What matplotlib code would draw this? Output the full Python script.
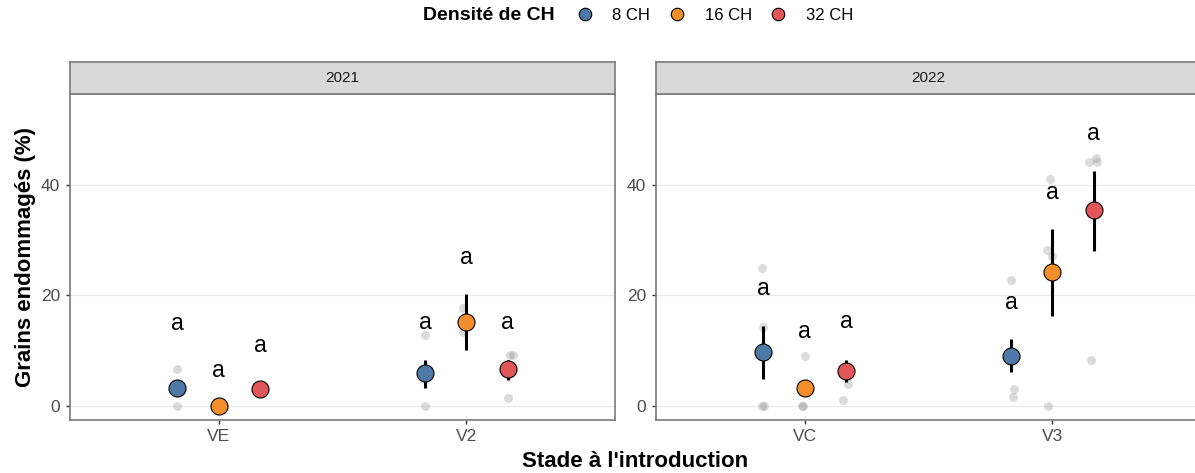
import matplotlib
matplotlib.use("Agg")
import matplotlib.pyplot as plt
from matplotlib.lines import Line2D
import numpy as np

plt.rcParams["font.family"] = ["Liberation Sans", "DejaVu Sans"]

# densities and colours
densities = ["8 CH", "16 CH", "32 CH"]
colors = ["#4E79A7", "#F28E2B", "#E15759"]

years = ["2021", "2022"]
stages_2021 = ["VE", "V2"]
stages_2022 = ["VC", "V3"]

# means per stage (rows) and density (columns)
mean_2021 = [[3.3, 0.0, 3.0], [5.9, 15.2, 6.6]]
mean_2022 = [[9.7, 3.2, 6.4], [9.1, 24.2, 35.4]]

# standard error bars (low / high), nan = no bar
lo_2021 = [[np.nan, np.nan, np.nan], [3.3, 10.1, 4.7]]
hi_2021 = [[np.nan, np.nan, np.nan], [8.4, 20.3, 8.4]]
lo_2022 = [[4.9, np.nan, 4.3], [6.1, 16.3, 28.0]]
hi_2022 = [[14.5, np.nan, 8.4], [12.1, 32.0, 42.6]]

# letters from the mean comparison and their heights
letters_2021 = [["a", "a", "a"], ["a", "a", "a"]]
letters_2022 = [["a", "a", "a"], ["a", "a", "a"]]
lab_y_2021 = [[14.9, 6.5, 10.9], [15.1, 26.9, 15.1]]
lab_y_2022 = [[21.3, 13.5, 15.2], [18.8, 38.6, 49.3]]

# raw observations: stage index, density index, jitter, value
raw_2021_stage = [0, 0, 0, 0, 1, 1, 1, 1, 1, 1, 1]
raw_2021_dens = [0, 0, 1, 1, 0, 0, 1, 1, 2, 2, 2]
raw_2021_jit = [0.0, 0.0, -0.01, 0.01, 0.0, 0.0, -0.015, -0.015, 0.01, 0.02, 0.0]
raw_2021_val = [6.6, 0.0, 0.0, 0.0, 12.9, 0.0, 17.8, 13.3, 9.3, 9.3, 1.4]

raw_2022_stage = [0, 0, 0, 0, 0, 0, 0, 0, 0, 1, 1, 1, 1, 1, 1, 1, 1, 1, 1, 1]
raw_2022_dens = [0, 0, 0, 0, 1, 1, 1, 2, 2, 0, 0, 0, 1, 1, 1, 1, 2, 2, 2, 2]
raw_2022_jit = [-0.005, 0.0, -0.005, 0.004, 0.0, -0.01, -0.005, 0.01, -0.013,
                0.0, 0.01, 0.007, -0.01, -0.02, 0.0, -0.017,
                0.009, -0.02, 0.015, -0.012]
raw_2022_val = [24.9, 14.2, 0.0, 0.0, 9.0, 0.0, 0.0, 4.0, 1.1,
                22.8, 3.0, 1.7, 41.0, 28.3, 27.1, 0.0,
                44.8, 44.2, 44.2, 8.3]

W, H = 1195, 473
fig = plt.figure(figsize=(W / 100, H / 100), dpi=100)

dodge = [-1 / 6, 0, 1 / 6]
border = "#7a7a7a"


def panel(x0, year, stages, means, lo, hi, letters, lab_y, r_st, r_de, r_ji, r_va):
    ax = fig.add_axes([x0 / W, (H - 419.5) / H, 545 / W, (419.5 - 94.3) / H])
    for y in [0, 20, 40]:
        ax.axhline(y, color="#ebebeb", lw=1.0, zorder=0)

    xr = [i + 1 + dodge[d] + j for i, d, j in zip(r_st, r_de, r_ji)]
    ax.scatter(xr, r_va, s=42, color="grey", alpha=0.28, lw=0, zorder=1)

    for i in range(len(stages)):
        for d in range(3):
            x = i + 1 + dodge[d]
            if not np.isnan(lo[i][d]):
                ax.vlines(x, lo[i][d], hi[i][d], color="black", lw=2.2, zorder=2)
            ax.scatter(x, means[i][d], s=150, color=colors[d],
                       edgecolor="black", lw=0.8, zorder=3)
            ax.text(x, lab_y[i][d], letters[i][d], ha="center", va="center",
                    fontsize=16.5, color="black")

    ax.set_xlim(0.4, 2.6)
    ax.set_ylim(-2.45, 56.4)
    ax.set_xticks([1, 2])
    ax.set_xticklabels(stages)
    ax.set_yticks([0, 20, 40])
    ax.tick_params(length=3, width=1, color="#333333", labelcolor="#4d4d4d",
                   labelsize=12.5, pad=4)
    for s in ax.spines.values():
        s.set_color(border)
        s.set_linewidth(1.2)

    # facet strip
    st = fig.add_axes([x0 / W, (H - 94.3) / H, 545 / W, 32.6 / H])
    st.set_facecolor("#d9d9d9")
    st.set_xticks([])
    st.set_yticks([])
    for s in st.spines.values():
        s.set_color(border)
        s.set_linewidth(1.2)
    st.text(0.5, 0.5, year, ha="center", va="center", fontsize=11,
            color="#1a1a1a", transform=st.transAxes)
    return ax


panel(70, years[0], stages_2021, mean_2021, lo_2021, hi_2021, letters_2021,
      lab_y_2021, raw_2021_stage, raw_2021_dens, raw_2021_jit, raw_2021_val)
panel(656, years[1], stages_2022, mean_2022, lo_2022, hi_2022, letters_2022,
      lab_y_2022, raw_2022_stage, raw_2022_dens, raw_2022_jit, raw_2022_val)

fig.text(26 / W, (H - 257) / H, "Grains endommagés (%)", rotation=90,
         ha="center", va="center", fontsize=16, fontweight="bold")
fig.text(635 / W, (H - 461) / H, "Stade à l'introduction", ha="center",
         va="center", fontsize=16, fontweight="bold")

# legend across the top
fig.text(423 / W, (H - 15) / H, "Densité de CH", ha="left", va="center",
         fontsize=14, fontweight="bold")
handles = [Line2D([], [], ls="", marker="o", ms=9, mfc=c, mec="black", mew=0.8)
           for c in colors]
fig.legend(handles, densities, ncol=3, frameon=False, loc="center left",
           bbox_to_anchor=(575 / W, (H - 15) / H), fontsize=12,
           handletextpad=1.05, columnspacing=1.0, handlelength=1.2,
           borderaxespad=0, borderpad=0)

fig.savefig("out.png", dpi=100)
